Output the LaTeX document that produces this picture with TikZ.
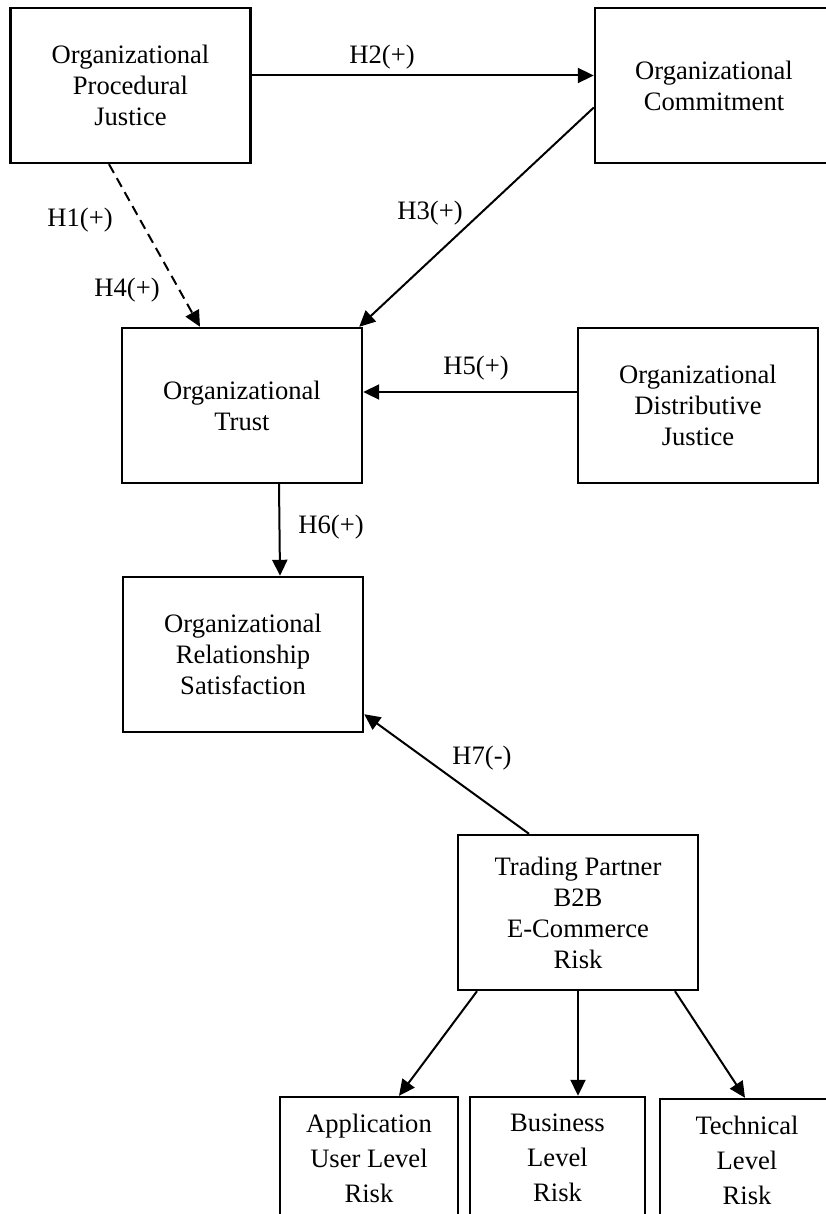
\documentclass[tikz,border=0pt]{standalone}
\usepackage{fontspec}
\setmainfont{Liberation Serif}
\usetikzlibrary{arrows.meta}

\begin{document}
\begin{tikzpicture}[x=.5pt,y=-.5pt,line width=1pt,>={Triangle[length=8pt,width=7.5pt]},
    box/.style={draw,line width=1.2pt,minimum width=120pt,minimum height=77.5pt,
      align=center,inner sep=0pt,font=\fontsize{13.3}{15.5}\selectfont},
    riskbox/.style={box,minimum height=61pt,font=\fontsize{13.3}{17.5}\selectfont},
    hyp/.style={font=\fontsize{13.3}{15.5}\selectfont}]
  \useasboundingbox (0,0) rectangle (825,1214);
  \node[box] (opj) at (130.5,85.5) {Organizational\\Procedural\\Justice};
  \node[box,minimum width=119pt] (oc) at (714,85.5) {Organizational\\Commitment};
  \node[box] (ot) at (242,405.5) {Organizational\\Trust}; \node[box] (odj) at
  (698,405.5) {Organizational\\Distributive\\Justice};
  \node[box] (ors) at (243,654.5) {Organizational\\Relationship\\Satisfaction};
  \node[box] (tp) at (578,912.5) {Trading Partner\\B2B\\E-Commerce\\Risk};
  \node[riskbox,minimum width=89pt] (aul) at (369,1158) {Application\\User Level\\Risk};
  \node[riskbox,minimum width=87.5pt] (bl) at (557.5,1158) {Business\\Level\\Risk};
  \node[riskbox,minimum width=87pt] (tl) at (747,1160) {Technical\\Level\\Risk};
  % hypotheses
  \draw[->] ([yshift=5pt]opj.east) -- ([yshift=5pt]oc.west);
  \node[hyp] (h2) at (382,57) {H2(+)};
  \draw[->] ([yshift=-11pt]oc.west) -- ([xshift=-2pt]ot.north east);
  \node[hyp] (h3) at (430,213) {H3(+)};
  \draw[->,dash pattern=on 5pt off 3pt] ([xshift=-10.75pt]opj.south) --
  ([xshift=-21pt]ot.north); \node[hyp] (h1) at (80,220) {H1(+)};
  \node[hyp] (h4) at (127,290) {H4(+)};
  \draw[->] ([yshift=6.75pt]odj.west) -- ([yshift=6.75pt]ot.east);
  \node[hyp] (h5) at (476,368) {H5(+)};
  \draw[->] ([xshift=18.5pt]ot.south) -- ([xshift=18.5pt]ors.north);
  \node[hyp] (h6) at (331,527) {H6(+)};
  \draw[->] ([xshift=-24.5pt]tp.north) -- ([yshift=9.5pt]ors.south east);
  \node[hyp] (h7) at (482,758) {H7(-)};
  % risk levels
  \draw[->] ([xshift=-50.5pt]tp.south) -- ([xshift=15pt]aul.north);
  \draw[->] (tp.south) -- (tp.south |- bl.north);
  \draw[->] ([xshift=48.5pt]tp.south) -- ([xshift=-1pt]tl.north);
\end{tikzpicture}
\end{document}
